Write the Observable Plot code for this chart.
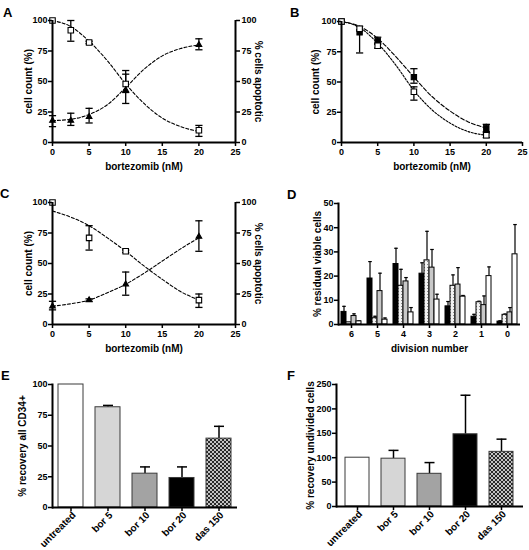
<!DOCTYPE html>
<html>
<head>
<meta charset="utf-8">
<script src="https://cdn.jsdelivr.net/npm/d3@7"></script>
<script src="https://cdn.jsdelivr.net/npm/@observablehq/plot@0.6"></script>
<style>
  html, body { margin: 0; padding: 0; background: white; }
  #chart { position: relative; width: 529px; height: 550px; background: white; overflow: hidden; }
  .letter { position: absolute; font: bold 13px 'Liberation Sans', Arial, sans-serif; line-height: 1; color: black; }
</style>
</head>
<body>
<svg width="0" height="0" style="position:absolute">
  <defs>
    <pattern id="dots" width="3" height="3" patternUnits="userSpaceOnUse">
      <rect width="3" height="3" fill="#f2f2f2"></rect>
      <rect x="1" y="1" width="1" height="1" fill="#8a8a8a"></rect>
    </pattern>
    <pattern id="check" width="4" height="4" patternUnits="userSpaceOnUse">
      <rect width="4" height="4" fill="#c4c4c4"></rect>
      <rect width="2" height="2" fill="#2a2a2a"></rect>
      <rect x="2" y="2" width="2" height="2" fill="#2a2a2a"></rect>
    </pattern>
  </defs>
</svg>
<div id="chart"></div>
<script>
// ---------- Data ----------
// Panel A
const A_dose = [0, 2.5, 5, 10, 20];
const A_count = [100, 92, 82, 48, 10];
const A_countLo = [100, 83, 81, 41, 5];
const A_countHi = [100, 100, 83, 59, 14];
const A_apop = [18, 18, 21, 43, 80];
const A_apopLo = [13, 14, 16, 32, 76];
const A_apopHi = [22, 24, 28, 56, 85];
const fitDose = [0, 2.5, 5, 7.5, 10, 12.5, 15, 17.5, 20];
const A_countFit = [100, 95, 83, 67, 48, 32, 20, 13, 9];
const A_apopFit = [18, 19, 23, 31, 45, 60, 71, 77, 80];

// Panel B
const B_dose = [0, 2.5, 5, 10, 20];
const B_filled = [100, 91, 84, 54, 12];
const B_filledLo = [100, 74, 81, 49, 9];
const B_filledHi = [100, 93, 87, 61, 15];
const B_open = [100, 94, 80, 42, 6];
const B_openLo = [100, 93, 78, 35, 4];
const B_openHi = [100, 96, 82, 46, 8];
const B_filledFit = [100, 96, 86, 71, 54, 38, 26, 17, 12];
const B_openFit = [100, 95, 82, 64, 43, 27, 16, 9, 6];

// Panel C
const C_dose = [0, 5, 10, 20];
const C_count = [100, 71, 60, 20];
const C_countLo = [100, 61, 59, 14];
const C_countHi = [100, 81, 61, 25];
const C_apop = [15, 20, 33, 72];
const C_apopLo = [12, 19, 24, 60];
const C_apopHi = [19, 21, 43, 85];
const C_countFit = [93, 88, 81, 71, 60, 48, 37, 27, 20];
const C_apopFit = [15, 17, 20, 26, 33, 42, 52, 62, 71];

const doseTicks = [0, 5, 10, 15, 20, 25];
const pctTicks = [0, 25, 50, 75, 100];

// Panel D
const D_divisions = ["6", "5", "4", "3", "2", "1", "0"];
const D_seriesKeys = ["s1", "s2", "s3", "s4"];
const D_s1 = [5.2, 19, 25, 21, 7.5, 3.2, 1.2];
const D_s1Hi = [7.5, 26, 31.5, 25.5, 9.5, 4.2, 1.5];
const D_s2 = [0.9, 2.6, 16, 26.5, 16, 9.2, 4];
const D_s2Hi = [0.9, 3.4, 22.8, 38.5, 20.5, 9.6, 4.3];
const D_s3 = [3.5, 13.8, 17.8, 23.5, 16.5, 8, 5];
const D_s3Hi = [4.4, 21.2, 19.4, 31, 23.5, 11.8, 7];
const D_s4 = [1.3, 2, 5, 10.3, 11.5, 20, 29];
const D_s4Hi = [1.5, 2.7, 7, 12.5, 12, 23.8, 41.3];
const D_ticks = [0, 10, 20, 30, 40, 50];

// Panel E
const treatments = ["untreated", "bor 5", "bor 10", "bor 20", "das 150"];
const E_values = [100, 81.5, 27.5, 24, 56];
const E_hi = [null, 83, 33, 33, 66];
// Panel F
const F_values = [100, 98, 67, 148, 112];
const F_hi = [null, 115, 90, 228, 138];

// ---------- Styles ----------
const FONT = "'Liberation Sans', Arial, Helvetica, sans-serif";
const D_fills = ["black", "url(#dots)", "#c8c8c8", "white"];
const EF_fills = ["white", "#d6d6d6", "#a3a3a3", "black", "url(#check)"];

const cap = {
  draw(context, size) {
    const h = Math.sqrt(size / Math.PI);
    context.moveTo(-h, 0);
    context.lineTo(h, 0);
  }
};

const container = document.getElementById("chart");
function mount(node, left, top) {
  node.style.position = "absolute";
  node.style.left = left + "px";
  node.style.top = top + "px";
  container.appendChild(node);
}
function letter(t, left, top) {
  const d = document.createElement("div");
  d.className = "letter";
  d.textContent = t;
  d.style.left = left + "px";
  d.style.top = top + "px";
  container.appendChild(d);
}
const svgStyle = {fontFamily: FONT, fontSize: "9px", fontWeight: "bold", background: "transparent", color: "black", overflow: "visible"};
const titleOpts = {text: d => d, fontSize: 10, textAnchor: "middle", lineAnchor: "middle", fill: "black"};

function rowsOf(xs, ys, lo, hi) {
  return xs.map((x, i) => ({x, y: ys[i], lo: lo[i], hi: hi[i]}));
}
function fitRows(ys) {
  return fitDose.map((x, i) => ({x, y: ys[i]}));
}

function curvePanel(opts) {
  const marks = [];
  for (const s of opts.series) {
    marks.push(Plot.line(fitRows(s.fit), {x: "x", y: "y", curve: "monotone-x", stroke: "black", strokeWidth: 1.1, strokeDasharray: s.dash}));
  }
  for (const s of opts.series) {
    const err = s.rows.filter(d => d.hi > d.lo);
    marks.push(Plot.ruleX(err, {x: "x", y1: "lo", y2: "hi", stroke: "black", strokeWidth: 1.3}));
    marks.push(Plot.dot(err, {x: "x", y: "lo", symbol: cap, r: 3.6, stroke: "black", strokeWidth: 1.3}));
    marks.push(Plot.dot(err, {x: "x", y: "hi", symbol: cap, r: 3.6, stroke: "black", strokeWidth: 1.3}));
  }
  for (const s of opts.series) {
    marks.push(Plot.dot(s.rows, {x: "x", y: "y", symbol: s.symbol, r: s.r, fill: s.fill, stroke: "black", strokeWidth: 1.1}));
  }
  marks.push(Plot.ruleY([0], {strokeWidth: 2}));
  marks.push(Plot.ruleX([0], {strokeWidth: 2}));
  if (opts.right) marks.push(Plot.ruleX([25], {strokeWidth: 2}));
  marks.push(Plot.axisX({ticks: doseTicks, tickSize: 4, tickPadding: 2, strokeWidth: 1.5, label: null}));
  marks.push(Plot.axisY({ticks: pctTicks, tickSize: 4, tickPadding: 1, strokeWidth: 1.5, label: null}));
  if (opts.right) marks.push(Plot.axisY({anchor: "right", ticks: pctTicks, tickSize: 4, tickPadding: 2, strokeWidth: 1.5, label: null}));
  marks.push(Plot.text(["cell count (%)"], {...titleOpts, frameAnchor: "left", dx: opts.ylabelDx, rotate: -90}));
  marks.push(Plot.text(["bortezomib (nM)"], {...titleOpts, frameAnchor: "bottom", dy: 24}));
  if (opts.right) marks.push(Plot.text(["% cells apoptotic"], {...titleOpts, frameAnchor: "right", dx: 23, rotate: 90}));
  return Plot.plot({
    width: opts.width, height: opts.height,
    marginLeft: opts.ml, marginRight: opts.mr, marginTop: opts.mt, marginBottom: opts.mb,
    x: {domain: [0, 25]}, y: {domain: [0, 100]},
    style: svgStyle,
    marks
  });
}

// Panel A
mount(curvePanel({
  width: 265, height: 180, ml: 52, mr: 30, mt: 20, mb: 38, right: true, ylabelDx: -24,
  series: [
    {rows: rowsOf(A_dose, A_count, A_countLo, A_countHi), fit: A_countFit, symbol: "square", r: 3.1, fill: "white", dash: "3,2"},
    {rows: rowsOf(A_dose, A_apop, A_apopLo, A_apopHi), fit: A_apopFit, symbol: "triangle", r: 2.1, fill: "black", dash: "3,2"}
  ]
}), 0, 0);

// Panel B
mount(curvePanel({
  width: 264, height: 180, ml: 76, mr: 7, mt: 21, mb: 38, right: false, ylabelDx: -26,
  series: [
    {rows: rowsOf(B_dose, B_filled, B_filledLo, B_filledHi), fit: B_filledFit, symbol: "square", r: 3.0, fill: "black", dash: "4,2"},
    {rows: rowsOf(B_dose, B_open, B_openLo, B_openHi), fit: B_openFit, symbol: "square", r: 3.1, fill: "white", dash: "2,1.5"}
  ]
}), 265, 0);

// Panel C
mount(curvePanel({
  width: 265, height: 175, ml: 52, mr: 30, mt: 17, mb: 36, right: true, ylabelDx: -24,
  series: [
    {rows: rowsOf(C_dose, C_count, C_countLo, C_countHi), fit: C_countFit, symbol: "square", r: 3.1, fill: "white", dash: "3,2"},
    {rows: rowsOf(C_dose, C_apop, C_apopLo, C_apopHi), fit: C_apopFit, symbol: "triangle", r: 2.1, fill: "black", dash: "3,2"}
  ]
}), 0, 185);

// Panel D
const D_vals = [D_s1, D_s2, D_s3, D_s4];
const D_his = [D_s1Hi, D_s2Hi, D_s3Hi, D_s4Hi];
const D_rows = [];
D_divisions.forEach((div, g) => {
  D_seriesKeys.forEach((key, s) => {
    D_rows.push({div, key, s, value: D_vals[s][g], hi: D_his[s][g]});
  });
});
mount(Plot.plot({
  width: 264, height: 175, marginLeft: 71, marginRight: 8, marginTop: 18, marginBottom: 36,
  fx: {domain: D_divisions, padding: 0},
  x: {domain: D_seriesKeys, paddingInner: 0.06, paddingOuter: 0.38, axis: null},
  y: {domain: [0, 50]},
  color: {type: "identity"},
  style: svgStyle,
  marks: [
    Plot.ruleX(D_rows.filter(d => d.hi > d.value), {fx: "div", x: "key", y1: "value", y2: "hi", stroke: "black", strokeWidth: 1.2}),
    Plot.dot(D_rows.filter(d => d.hi > d.value), {fx: "div", x: "key", y: "hi", symbol: cap, r: 1.8, stroke: "black", strokeWidth: 1.2}),
    Plot.barY(D_rows, {fx: "div", x: "key", y: "value", fill: d => D_fills[d.s], stroke: "black", strokeWidth: 1}),
    Plot.ruleY([0], {strokeWidth: 2}),
    Plot.frame({anchor: "left", facetAnchor: "left", strokeWidth: 2}),
    Plot.axisY({ticks: D_ticks, tickSize: 4, tickPadding: 1, strokeWidth: 1.5, label: null}),
    Plot.axisFx({anchor: "bottom", tickSize: 4, tickPadding: 2, strokeWidth: 1.5, label: null}),
    Plot.text(["% residual viable cells"], {...titleOpts, frameAnchor: "left", dx: -21, rotate: -90, facet: "super"}),
    Plot.text(["division number"], {...titleOpts, frameAnchor: "bottom", dy: 24, facet: "super"})
  ]
}), 265, 185);

// Panels E & F
function recoveryPanel(values, his, opts) {
  const rows = treatments.map((label, i) => ({label, i, value: values[i], hi: his[i]}));
  const err = rows.filter(d => d.hi != null);
  return Plot.plot({
    width: opts.width, height: opts.height,
    marginLeft: opts.ml, marginRight: opts.mr, marginTop: opts.mt, marginBottom: opts.mb,
    x: {domain: treatments, paddingInner: 0.32, paddingOuter: opts.po},
    y: {domain: opts.domain},
    color: {type: "identity"},
    style: svgStyle,
    marks: [
      Plot.ruleX(err, {x: "label", y1: "value", y2: "hi", stroke: "black", strokeWidth: 1.5}),
      Plot.dot(err, {x: "label", y: "hi", symbol: cap, r: 5, stroke: "black", strokeWidth: 1.5}),
      Plot.barY(rows, {x: "label", y: "value", fill: d => EF_fills[d.i], stroke: "#3a3a3a", strokeWidth: 1}),
      Plot.ruleY([0], {strokeWidth: 2}),
      Plot.frame({anchor: "left", strokeWidth: 2}),
      Plot.axisY({ticks: opts.ticks, tickSize: 4, tickPadding: 1, strokeWidth: 1.5, label: null}),
      Plot.axisX({tickSize: 4, strokeWidth: 1.5, tickFormat: () => "", label: null}),
      Plot.axisX({tickSize: 0, tickPadding: 6, tickRotate: -45, fontSize: 10, dx: 3, label: null}),
      Plot.text([opts.ylabel], {...titleOpts, frameAnchor: "left", dx: opts.ylabelDx, rotate: -90})
    ]
  });
}
mount(recoveryPanel(E_values, E_hi, {
  width: 265, height: 185, ml: 52, mr: 28, mt: 19, mb: 43, po: 0.16,
  domain: [0, 100], ticks: [0, 25, 50, 75, 100], ylabel: "% recovery all CD34+", ylabelDx: -30
}), 0, 365);
mount(recoveryPanel(F_values, F_hi, {
  width: 264, height: 185, ml: 71, mr: 6, mt: 19, mb: 44, po: 0.22,
  domain: [0, 250], ticks: [0, 50, 100, 150, 200, 250], ylabel: "% recovery undivided cells", ylabelDx: -26
}), 265, 365);

letter("A", 3, 5.5);
letter("B", 290, 5.5);
letter("C", 0, 186.5);
letter("D", 287, 187.5);
letter("E", 1, 368.5);
letter("F", 287, 368.5);
</script>
</body>
</html>
